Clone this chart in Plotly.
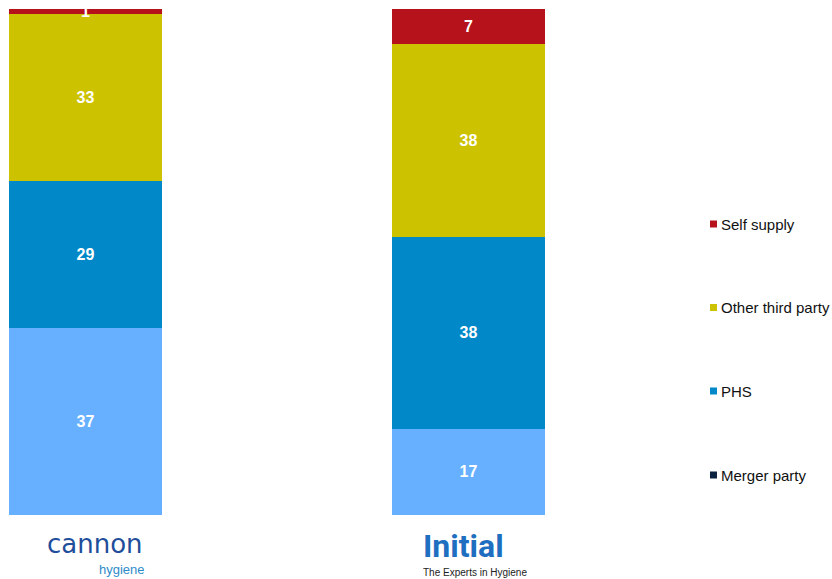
import plotly.graph_objects as go

# Supply share by supplier (%), one stacked bar per company
companies = ["Cannon", "Initial"]
merger_party = [37, 17]
phs = [29, 38]
other_third_party = [33, 38]
self_supply = [1, 7]

series_names = ["Merger party", "PHS", "Other third party", "Self supply"]
series_values = [merger_party, phs, other_third_party, self_supply]
bar_colors = ["#66B0FF", "#0088C8", "#CCC200", "#B5121B"]
legend_colors = ["#0A2240", "#0088C8", "#CCC200", "#B5121B"]

W, H = 832, 579
PLOT_W = 700
UNIT = 383.0          # pixels between the two bar centres
X0 = -85.5 / UNIT     # left edge of the x range

fig = go.Figure()
for name, vals, col in zip(series_names, series_values, bar_colors):
    fig.add_trace(go.Bar(
        x=[0, 1], y=vals, name=name,
        marker=dict(color=col, line=dict(width=0)),
        width=0.4,
        text=[str(v) for v in vals],
        textposition="inside", insidetextanchor="middle",
        textangle=0, constraintext="none",
        textfont=dict(family="Arial, Liberation Sans", size=16, color="white", weight="bold"),
        cliponaxis=False,
        showlegend=False,
    ))

# Legend: top entry is the last stacked series
leg_y = {"Self supply": 224, "Other third party": 307.5, "PHS": 391, "Merger party": 475}
for name, col in zip(series_names, legend_colors):
    yc = leg_y[name]
    fig.add_shape(type="rect", xref="paper", yref="paper",
                  x0=710 / PLOT_W, x1=717 / PLOT_W,
                  y0=1 - (yc + 3.5 - 9) / 506, y1=1 - (yc - 3.5 - 9) / 506,
                  fillcolor=col, line=dict(width=0))
    fig.add_annotation(xref="paper", yref="paper", x=719 / PLOT_W, y=1 - (yc - 9) / 506,
                       text=name, showarrow=False, xanchor="left", yanchor="middle",
                       font=dict(family="Arial, Liberation Sans", size=15, color="#111111"))

# Company logos under the bars
fig.add_annotation(xref="x", yref="paper", x=0.025, y=1 - (544 - 9) / 506,
                   text="cannon", showarrow=False, xanchor="center", yanchor="middle",
                   height=24, valign="middle",
                   font=dict(family="DejaVu Sans", size=26, color="#1F4E9A"))
fig.add_annotation(xref="x", yref="paper", x=0.094, y=1 - (568.5 - 9) / 506,
                   text="hygiene", showarrow=False, xanchor="center", yanchor="middle",
                   height=16, valign="middle",
                   font=dict(family="Arial, Liberation Sans", size=13, color="#2E8BC9"))
fig.add_annotation(xref="x", yref="paper", x=0.988, y=1 - (546 - 9) / 506,
                   text="<b>Initial</b>", showarrow=False, xanchor="center", yanchor="middle",
                   height=30, valign="middle",
                   font=dict(family="Roboto, Arial", size=32, color="#1E6FC0"))
fig.add_annotation(xref="x", yref="paper", x=1.017, y=1 - (572.5 - 9) / 506,
                   text="The Experts in Hygiene", showarrow=False, xanchor="center", yanchor="middle",
                   height=13, valign="middle",
                   font=dict(family="Arial, Liberation Sans", size=10, color="#222222"))

fig.update_layout(
    width=W, height=H,
    margin=dict(l=0, r=W - PLOT_W, t=9, b=H - 515),
    barmode="stack",
    paper_bgcolor="white", plot_bgcolor="white",
    xaxis=dict(range=[X0, X0 + PLOT_W / UNIT], visible=False, fixedrange=True),
    yaxis=dict(range=[0, 100], visible=False, fixedrange=True),
    showlegend=False,
    uniformtext=dict(mode=False),
)

fig.write_html("out.html")
